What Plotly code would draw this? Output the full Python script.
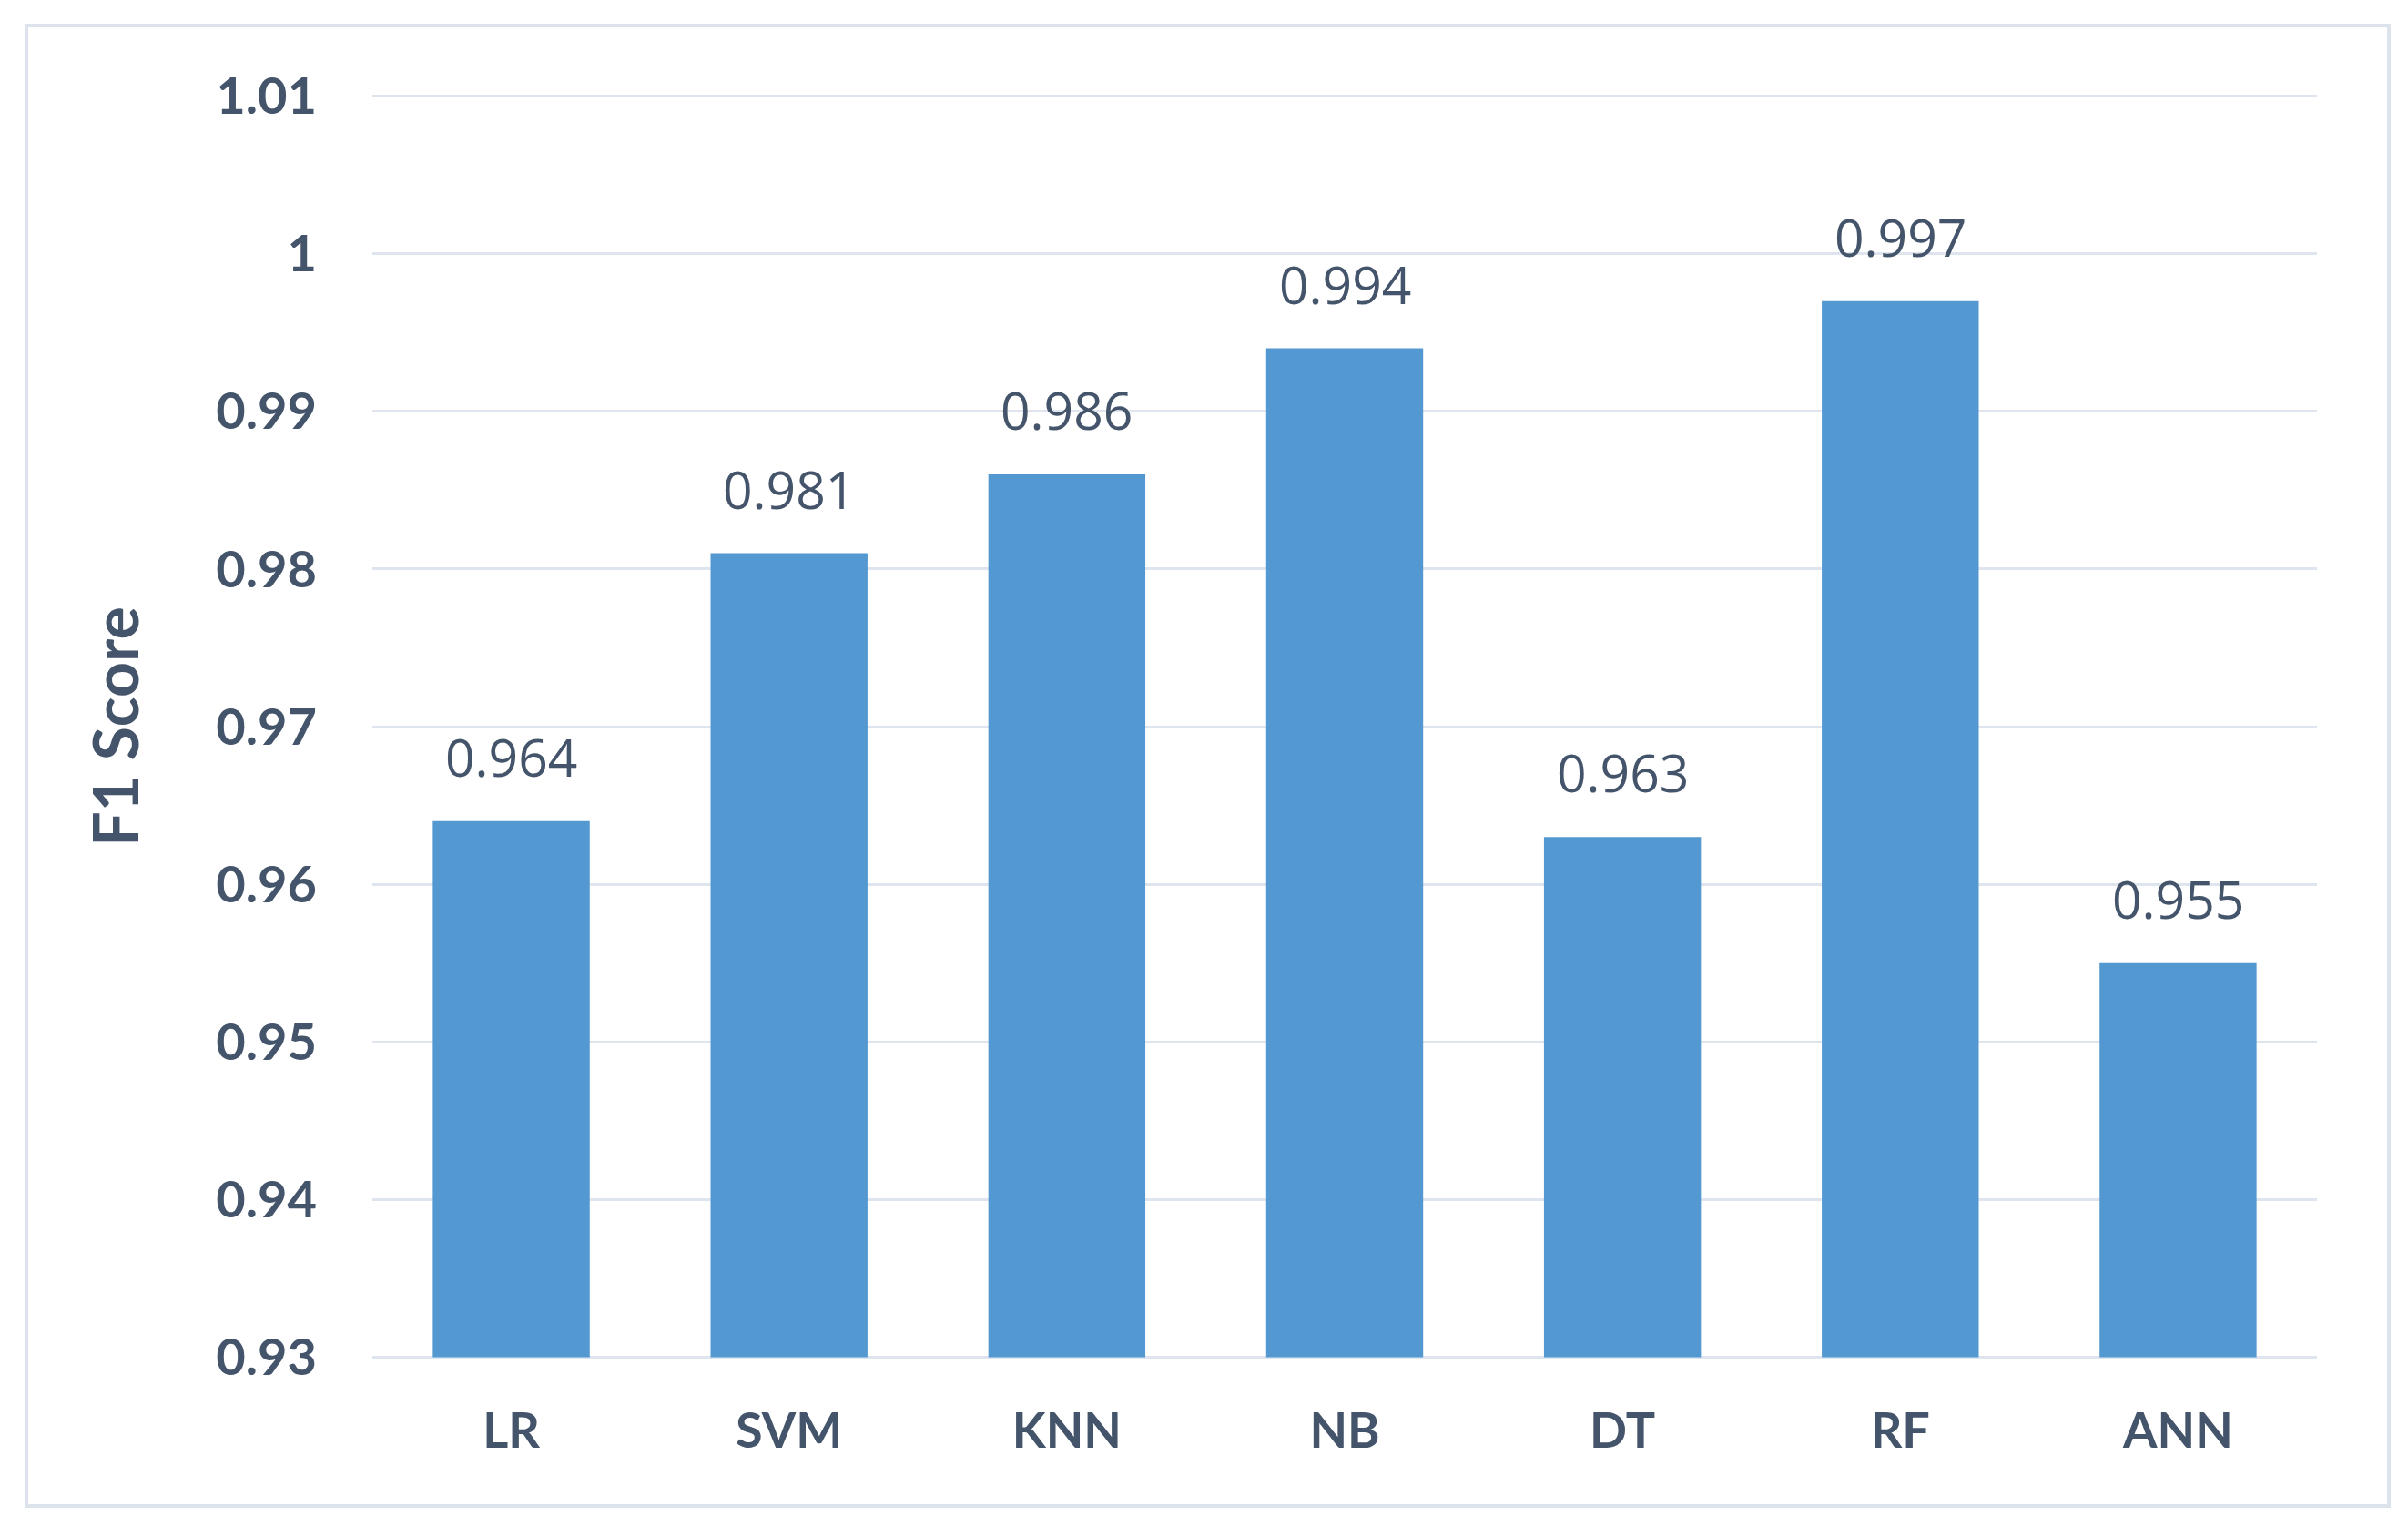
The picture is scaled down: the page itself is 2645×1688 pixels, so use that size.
import plotly.graph_objects as go

categories = ["LR", "SVM", "KNN", "NB", "DT", "RF", "ANN"]
f1_scores = [0.964, 0.981, 0.986, 0.994, 0.963, 0.997, 0.955]
label_texts = ["0.964", "0.981", "0.986", "0.994", "0.963", "0.997", "0.955"]
y_tick_vals = [0.93, 0.94, 0.95, 0.96, 0.97, 0.98, 0.99, 1.00, 1.01]
y_tick_text = ["0.93", "0.94", "0.95", "0.96", "0.97", "0.98", "0.99", "1", "1.01"]
y_min, y_max = 0.93, 1.01

TEXT = "#44546a"
GRID = "#dfe5ee"

W, H = 2630, 1673
ML, MR, MT, MB = 401, 93, 95, 188
pw = W - ML - MR
ph = H - MT - MB

fig = go.Figure()
fig.add_trace(go.Bar(
    x=categories,
    y=[v - y_min for v in f1_scores],
    base=y_min,
    marker=dict(color="#5398d1", line=dict(width=0)),
    customdata=f1_scores,
    hovertemplate="%{x}: %{customdata}<extra></extra>",
))

for c, v, t in zip(categories, f1_scores, label_texts):
    fig.add_annotation(
        x=c, y=v, text=t, showarrow=False, xref="x", yref="y",
        yanchor="middle", yshift=71,
        font=dict(family="Open Sans", size=57, color=TEXT),
    )

# outer border
fig.add_shape(
    type="rect", xref="paper", yref="paper",
    x0=(21 - ML) / pw, x1=(2616 - ML) / pw,
    y0=(H - MB - 1646) / ph, y1=(H - MB - 20) / ph,
    line=dict(color="#dce3ec", width=4), fillcolor="rgba(0,0,0,0)", layer="below",
)

fig.update_layout(
    width=W, height=H,
    margin=dict(l=ML, r=MR, t=MT, b=MB),
    paper_bgcolor="white", plot_bgcolor="white",
    showlegend=False,
    bargap=0.435,
    font=dict(family="Lato", color=TEXT),
)
fig.update_yaxes(
    range=[y_min - 0.00015, y_max + 0.00015],
    tickvals=y_tick_vals, ticktext=y_tick_text,
    showgrid=True, gridcolor=GRID, gridwidth=3,
    zeroline=False, showline=False, ticks="",
    ticklabelstandoff=60,
    tickfont=dict(family="Lato", size=56, color=TEXT, weight="bold"),
    title=dict(text="F1 Score", standoff=62,
               font=dict(family="Lato", size=68, color=TEXT, weight="bold")),
)
fig.update_xaxes(
    showgrid=False, zeroline=False, showline=False, ticks="",
    ticklabelstandoff=42,
    tickfont=dict(family="Lato", size=54, color=TEXT, weight="bold"),
)

fig.write_html("out.html")
